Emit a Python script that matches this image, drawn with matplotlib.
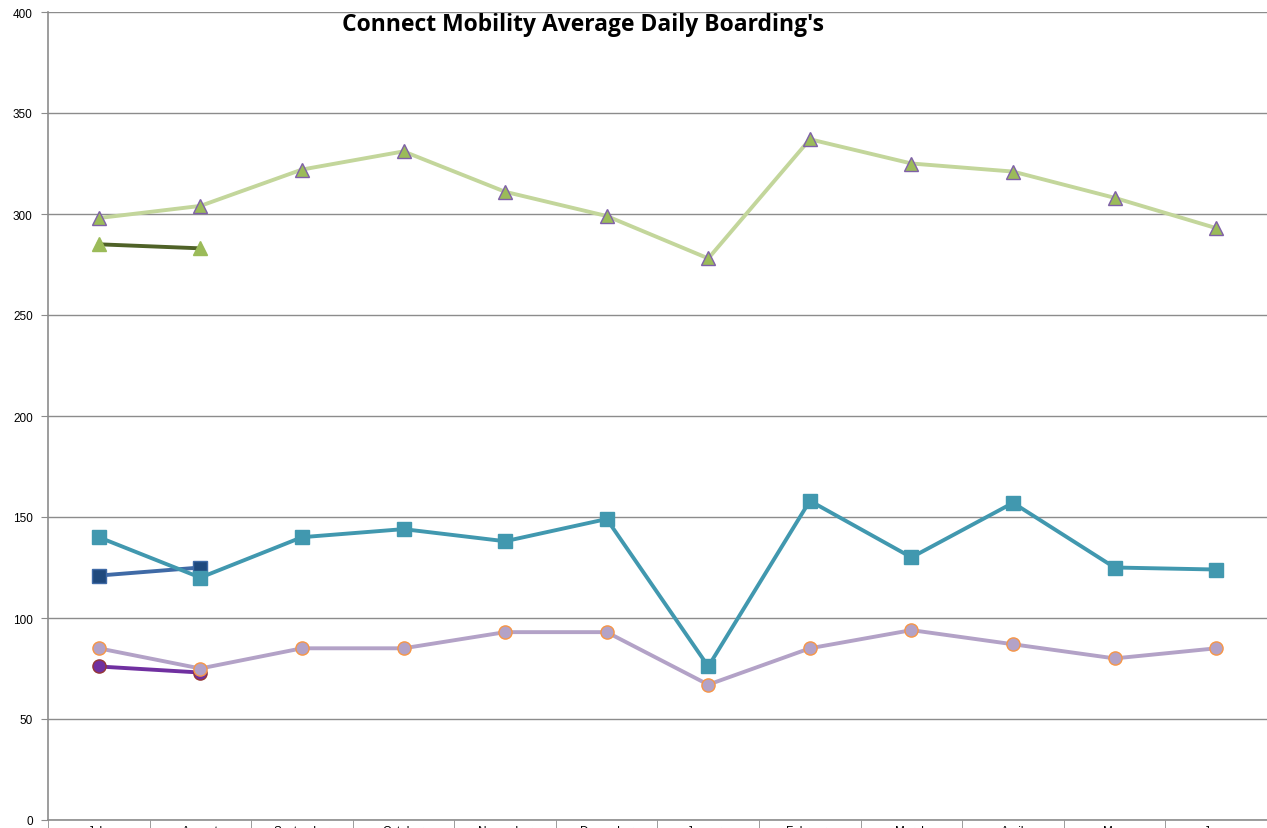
import matplotlib.pyplot as plt

months = ["July", "August", "September", "October", "November", "December",
          "January", "February", "March", "April", "May", "June"]

trips_prev = [298, 304, 322, 331, 311, 299, 278, 337, 325, 321, 308, 293]
trips_curr = [285, 283]
teal_prev = [140, 120, 140, 144, 138, 149, 76, 158, 130, 157, 125, 124]
blue_curr = [121, 125]
lav_prev = [85, 75, 85, 85, 93, 93, 67, 85, 94, 87, 80, 85]
purple_curr = [76, 73]

fig = plt.figure(figsize=(12.67, 8.29), dpi=100)
ax = fig.add_axes([48 / 1267, 8 / 829, 1 - 48 / 1267, 808 / 829])

x = list(range(len(months)))
lw = 2.8

ax.plot(x, trips_prev, color="#C3D69B", lw=lw, marker="^", ms=9.5,
        mfc="#9BBB59", mec="#7F60A8", mew=1.0, zorder=3)
ax.plot(x[:len(trips_curr)], trips_curr, color="#4F6228", lw=lw, marker="^", ms=10,
        mfc="#9BBB59", mec="#9BBB59", zorder=4)
ax.plot(x, teal_prev, color="#4198AF", lw=lw, marker="s", ms=9.5,
        mfc="#4198AF", mec="#4198AF", zorder=3)
ax.plot(x[:len(blue_curr)], blue_curr, color="#3F6AA6", lw=lw, marker="s", ms=9.5,
        mfc="#1F497D", mec="#3F6AA6", zorder=2)
ax.plot(x, lav_prev, color="#B3A2C7", lw=lw, marker="o", ms=9.5,
        mfc="#B3A2C7", mec="#F79646", mew=1.0, zorder=3)
ax.plot(x[:len(purple_curr)], purple_curr, color="#7030A0", lw=lw, marker="o", ms=9.5,
        mfc="#7030A0", mec="#953735", mew=1.0, zorder=2)

ax.set_xlim(-0.5, len(months) - 0.5)
ax.set_ylim(0, 400)
ax.set_yticks(range(0, 401, 50))
ax.yaxis.grid(True, color="#8C8C8C", lw=1)
ax.set_axisbelow(True)

# month labels sit just below the axis; the figure edge cuts them as in the original
ax.set_xticks(x)
ax.set_xticklabels(months, fontsize=8.5, fontfamily="Liberation Sans")
ax.set_xticks([i - 0.5 for i in range(len(months) + 1)], minor=True)
ax.tick_params(axis="x", which="major", length=0, pad=3.5)
ax.tick_params(axis="x", which="minor", length=6, color="#8C8C8C")
ax.tick_params(axis="y", length=5, color="#8C8C8C", labelsize=8.5, pad=6)
for lab in ax.get_yticklabels():
    lab.set_fontfamily("Liberation Sans")

for side in ["top", "right"]:
    ax.spines[side].set_visible(False)
for side in ["left", "bottom"]:
    ax.spines[side].set_color("#8C8C8C")
    ax.spines[side].set_linewidth(1.2)

fig.text(583 / 1267, 1 - 25 / 829, "Connect Mobility Average Daily Boarding's",
         ha="center", va="center", fontsize=16.5, fontweight="bold", fontfamily="Open Sans")

fig.savefig("out.png", dpi=100)
